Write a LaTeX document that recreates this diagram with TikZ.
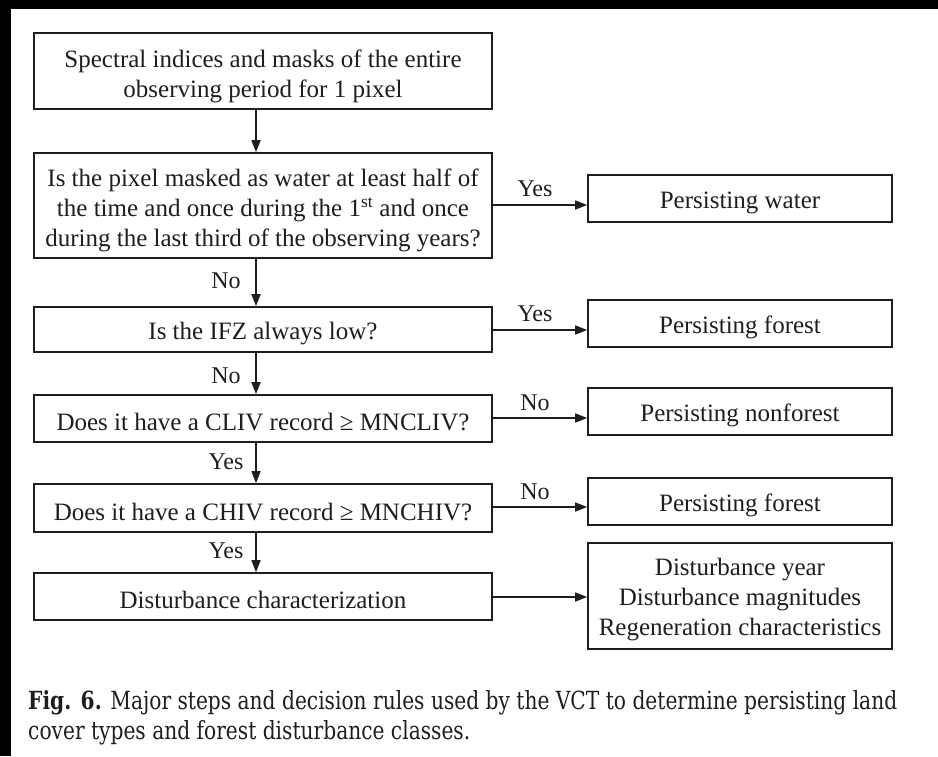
\documentclass[tikz,border=0pt]{standalone}
\usepackage{fontspec}
\setmainfont{Liberation Serif}
\newfontfamily\capfont{DejaVu Serif}
\usetikzlibrary{arrows.meta}
\definecolor{ink}{HTML}{1E1E1E}
\newcommand\topstrut[1]{\rule{0pt}{#1}}
\begin{document}
\begin{tikzpicture}[x=1pt,y=-1pt,
  box/.style={draw=ink, line width=1.6pt, inner sep=0pt, align=center,
    text=ink, font=\fontsize{25}{30}\selectfont,
    execute at begin node={\rule{0pt}{25pt}}},
  lbox/.style={box, minimum width=458pt},
  rbox/.style={box, minimum width=304pt},
  lab/.style={text=ink, font=\fontsize{24}{26}\selectfont, inner sep=0pt},
  arr/.style={draw=ink, line width=1.5pt, -{Triangle[length=12pt,width=9pt]}}]
\path[fill=white] (0,0) rectangle (938,756);
\useasboundingbox (0,0) rectangle (938,756);
\fill[black] (0,0) rectangle (938,9);
\fill[black] (0,0) rectangle (11,756);
% left column
\node[lbox, minimum height=76pt] (b1) at (263,71)
  {\topstrut{27.5pt}Spectral indices and masks of the entire\\observing period for 1 pixel};
\node[lbox, minimum height=105pt] (b2) at (263,205.5)
  {\topstrut{28pt}Is the pixel masked as water at least half of\\the time and once during the 1\textsuperscript{st} and once\\during the last third of the observing years?};
\node[lbox, minimum height=45pt] (b3) at (263,329.5) {Is the IFZ always low?};
\node[lbox, minimum height=47pt] (b4) at (263,418.5) {Does it have a CLIV record ≥ MNCLIV?};
\node[lbox, minimum height=48pt] (b5) at (263,508) {Does it have a CHIV record ≥ MNCHIV?};
\node[lbox, minimum height=47pt] (b6) at (263,596.5) {Disturbance characterization};
% right column
\node[rbox, minimum height=47pt] (r1) at (740,198.5) {Persisting water};
\node[rbox, minimum height=47pt] (r2) at (740,323.5) {Persisting forest};
\node[rbox, minimum height=47pt] (r3) at (740,411.5) {Persisting nonforest};
\node[rbox, minimum height=47pt] (r4) at (740,501.5) {Persisting forest};
\node[rbox, minimum height=106pt] (r5) at (740,596)
  {\topstrut{23.5pt}Disturbance year\\Disturbance magnitudes\\Regeneration characteristics};
% vertical connectors
\coordinate (vx) at (256,0);
\draw[arr] (b1.south -| vx) -- (b2.north -| vx);
\draw[arr] (b2.south -| vx) -- (b3.north -| vx);
\draw[arr] (b3.south -| vx) -- (b4.north -| vx);
\draw[arr] (b4.south -| vx) -- (b5.north -| vx);
\draw[arr] (b5.south -| vx) -- (b6.north -| vx);
% horizontal connectors
\coordinate (h1) at (0,205);
\coordinate (h2) at (0,330);
\coordinate (h3) at (0,418);
\coordinate (h4) at (0,507);
\coordinate (h5) at (0,597);
\draw[arr] (b2.east |- h1) -- (r1.west |- h1);
\draw[arr] (b3.east |- h2) -- (r2.west |- h2);
\draw[arr] (b4.east |- h3) -- (r3.west |- h3);
\draw[arr] (b5.east |- h4) -- (r4.west |- h4);
\draw[arr] (b6.east |- h5) -- (r5.west |- h5);
% labels
\node[lab] (l1) at (226,281) {No};
\node[lab] (l2) at (226,376) {No};
\node[lab] (l3) at (226,462) {Yes};
\node[lab] (l4) at (226,551) {Yes};
\node[lab] (l5) at (535,189) {Yes};
\node[lab] (l6) at (535,314) {Yes};
\node[lab] (l7) at (535,403) {No};
\node[lab] (l8) at (535,492) {No};
% caption
\node[anchor=north west, inner sep=0pt, text=ink] (cap) at (28,688.5)
  {\resizebox{869pt}{\height}{\capfont\fontsize{25}{30}\selectfont
   \begin{tabular}{@{}l@{}}\textbf{Fig. 6.} Major steps and decision rules used by the VCT to determine persisting land\\
   cover types and forest disturbance classes.\end{tabular}}};
\end{tikzpicture}
\end{document}
